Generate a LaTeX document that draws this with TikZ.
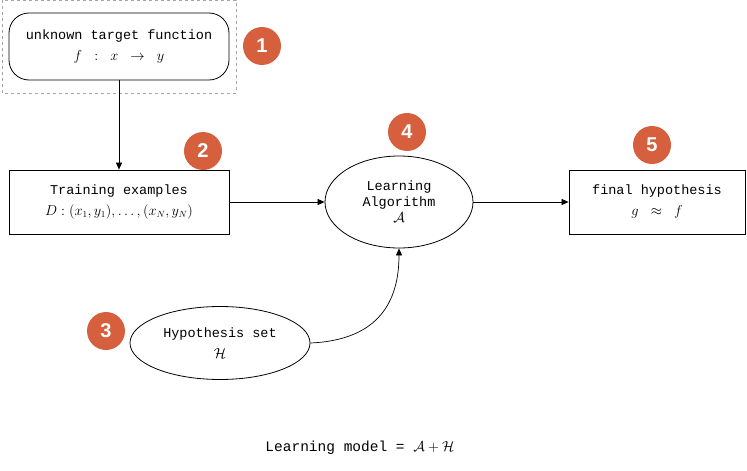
\documentclass[tikz,border=0pt]{standalone}
\usepackage{fontspec}
\setmainfont{Liberation Mono}
\newfontfamily\badgefont{Liberation Sans}
\usepackage{amsmath}
\usetikzlibrary{shapes.geometric,arrows.meta}
\definecolor{badge}{HTML}{D6603E}
\begin{document}
\begin{tikzpicture}[x=1pt,y=-1pt,
  box/.style={draw,line width=0.8pt,align=center,font=\fontsize{13.5}{21}\selectfont},
  num/.style={circle,fill=badge,text=white,minimum size=38pt,inner sep=0pt,font=\badgefont\bfseries\fontsize{20}{20}\selectfont},
  arr/.style={-{Triangle[length=7pt,width=6pt]},line width=0.7pt}]
\useasboundingbox (0,0) rectangle (747,471);
\draw[dashed,gray!70] (2,0) rectangle (236,93);
\node[box,rounded corners=20pt,minimum width=220pt,minimum height=67pt] (f) at (119,46.5) {unknown target function\\$f\ :\ x\ \rightarrow\ y$};
\node[box,minimum width=220pt,minimum height=64pt] (d) at (119,202) {Training examples\\$D:(x_1,y_1),\ldots,(x_N,y_N)$};
\node[box,ellipse,minimum width=148pt,minimum height=92pt,inner sep=0pt,font=\fontsize{13.5}{16}\selectfont] (a) at (399,202) {Learning\\Algorithm\\$\mathcal{A}$};
\node[box,minimum width=176pt,minimum height=64pt] (g) at (657,202) {final hypothesis\\$g\ \approx\ f$};
\node[box,ellipse,minimum width=180pt,minimum height=73pt,inner sep=0pt] (h) at (220,343) {Hypothesis set\\$\mathcal{H}$};
\node[num] (n1) at (262,46) {1};
\node[num] (n2) at (203,151) {2};
\node[num] (n3) at (106,331) {3};
\node[num] (n4) at (407,132) {4};
\node[num] (n5) at (652,145) {5};
\draw[arr] (f.south) -- (d.north);
\draw[arr] (d.east) -- (a.west);
\draw[arr] (a.east) -- (g.west);
\draw[arr] (h.east) .. controls (380,340) and (399,300) .. (a.south);
\node[font=\fontsize{14.5}{16}\selectfont] (lm) at (360,448) {Learning model = $\mathcal{A}+\mathcal{H}$};
\end{tikzpicture}
\end{document}
